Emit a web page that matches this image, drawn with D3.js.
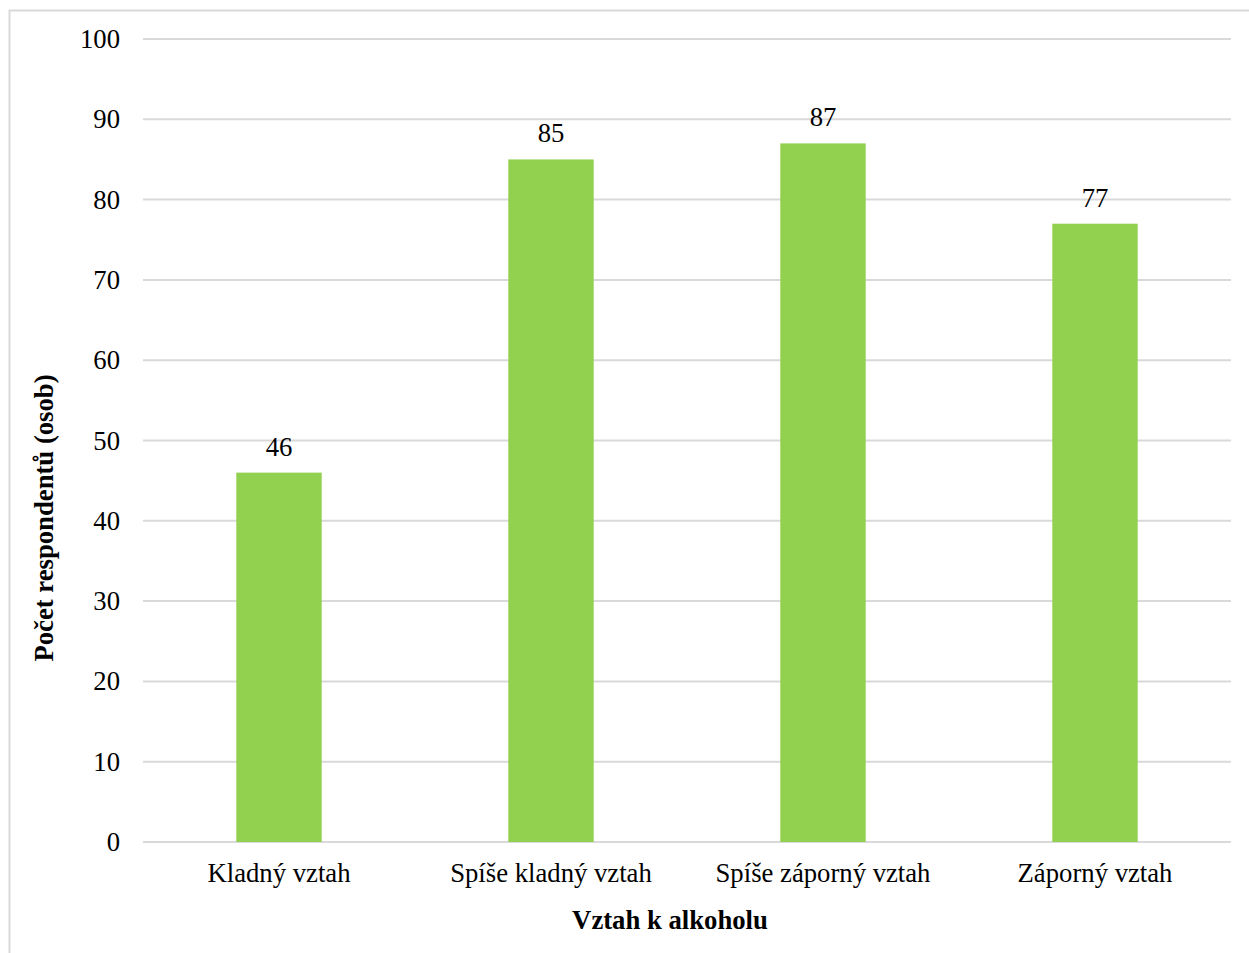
<!DOCTYPE html>
<html>
<head>
<meta charset="utf-8">
<style>
    body { margin: 0; background: #fff; }
    text { font-family: "Liberation Serif", "Times New Roman", serif; fill: #000; font-size: 26.7px; }
</style>
</head>
<body>
<svg></svg>
<script src="https://d3js.org/d3.v7.min.js"></script>
<script>
    var vWidth = 1249;
    var vHeight = 953;

    var categories = ['Kladný vztah', 'Spíše kladný vztah', 'Spíše záporný vztah', 'Záporný vztah'];
    var values = [46, 85, 87, 77];
    var yTicks = [0, 10, 20, 30, 40, 50, 60, 70, 80, 90, 100];

    var svg = d3.select('svg').attr('width', vWidth).attr('height', vHeight);

    // chart frame, runs off the right and bottom edge
    svg.append('rect')
        .attr('x', 9.5).attr('y', 10.5)
        .attr('width', 1260).attr('height', 960)
        .attr('fill', 'none').attr('stroke', '#d9d9d9').attr('stroke-width', 2);

    var x = d3.scaleBand().domain(categories).range([143, 1231]).paddingInner(0.686).paddingOuter(0.343);
    var y = d3.scaleLinear().domain([0, 100]).range([842, 39]);

    // gridlines
    svg.append('g').selectAll('line').data(yTicks).enter().append('line')
        .attr('x1', 143).attr('x2', 1231)
        .attr('y1', function (d) { return y(d); })
        .attr('y2', function (d) { return y(d); })
        .attr('stroke', '#d9d9d9').attr('stroke-width', 2);

    // y tick labels
    svg.append('g').selectAll('text').data(yTicks).enter().append('text')
        .attr('x', 120)
        .attr('y', function (d) { return y(d) + 9; })
        .attr('text-anchor', 'end')
        .text(function (d) { return d; });

    // bars
    svg.append('g').selectAll('rect').data(values).enter().append('rect')
        .attr('x', function (d, i) { return x(categories[i]); })
        .attr('y', function (d) { return y(d); })
        .attr('width', x.bandwidth())
        .attr('height', function (d) { return y(0) - y(d); })
        .attr('fill', '#92d050');

    // value labels
    svg.append('g').selectAll('text').data(values).enter().append('text')
        .attr('x', function (d, i) { return x(categories[i]) + x.bandwidth() / 2; })
        .attr('y', function (d) { return y(d) - 17; })
        .attr('text-anchor', 'middle')
        .text(function (d) { return d; });

    // category labels
    svg.append('g').selectAll('text').data(categories).enter().append('text')
        .attr('x', function (d) { return x(d) + x.bandwidth() / 2; })
        .attr('y', 882)
        .attr('text-anchor', 'middle')
        .text(function (d) { return d; });

    // axis titles
    svg.append('text')
        .attr('x', 670).attr('y', 929)
        .attr('text-anchor', 'middle')
        .style('font-weight', 'bold')
        .text('Vztah k alkoholu');

    svg.append('text')
        .attr('transform', 'translate(53,518) rotate(-90)')
        .attr('text-anchor', 'middle')
        .style('font-weight', 'bold')
        .text('Počet respondentů (osob)');
</script>
</body>
</html>
